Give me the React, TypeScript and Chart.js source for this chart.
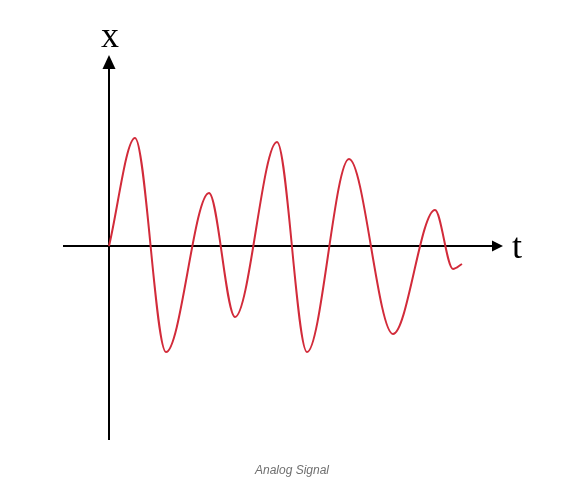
import React, { useEffect, useRef } from "react";
import { Chart, registerables } from "chart.js";

Chart.register(...registerables);

// time values (t) and signal amplitude (x) at the start, every crest/trough, and the end
const tValues = [0, 2.6, 5.7, 10.0, 12.6, 16.8, 19.8, 24.0, 28.4, 32.6, 34.4, 35.3];
const xValues = [0, 10.8, -10.6, 5.3, -7.1, 10.4, -10.6, 8.7, -8.8, 3.6, -2.3, -1.8];

const tRange = [-4.6, 39.4];
const xRange = [-19.4, 19.1];
const axisLabels = ["x", "t"];
const caption = "Analog Signal";

const axesPlugin = {
  id: "arrowAxes",
  beforeDatasetsDraw(chart: any) {
    const { ctx, chartArea, scales } = chart;
    const x0 = scales.x.getPixelForValue(0);
    const y0 = scales.y.getPixelForValue(0);
    ctx.save();
    ctx.strokeStyle = "#000";
    ctx.fillStyle = "#000";
    ctx.lineWidth = 2;
    // horizontal axis
    ctx.beginPath();
    ctx.moveTo(chartArea.left, y0);
    ctx.lineTo(chartArea.right - 8, y0);
    ctx.stroke();
    ctx.beginPath();
    ctx.moveTo(chartArea.right, y0);
    ctx.lineTo(chartArea.right - 11, y0 - 5.5);
    ctx.lineTo(chartArea.right - 11, y0 + 5.5);
    ctx.closePath();
    ctx.fill();
    // vertical axis
    ctx.beginPath();
    ctx.moveTo(x0, chartArea.bottom);
    ctx.lineTo(x0, chartArea.top + 10);
    ctx.stroke();
    ctx.beginPath();
    ctx.moveTo(x0, chartArea.top);
    ctx.lineTo(x0 - 6.5, chartArea.top + 14);
    ctx.lineTo(x0 + 6.5, chartArea.top + 14);
    ctx.closePath();
    ctx.fill();
    // labels
    ctx.font = "36px 'Liberation Serif', serif";
    ctx.textBaseline = "alphabetic";
    ctx.textAlign = "center";
    ctx.fillText(axisLabels[0], x0 + 1, chartArea.top - 8);
    ctx.textAlign = "left";
    ctx.fillText(axisLabels[1], chartArea.right + 9, y0 + 12);
    ctx.restore();
  },
};

export default function App() {
  const ref = useRef<HTMLCanvasElement | null>(null);
  useEffect(() => {
    if (!ref.current) return;
    const chart = new Chart(ref.current, {
      type: "line",
      data: {
        datasets: [
          {
            data: tValues.map((t, i) => ({ x: t, y: xValues[i] })),
            borderColor: "#d22b3a",
            borderWidth: 2,
            pointRadius: 0,
            cubicInterpolationMode: "monotone",
            fill: false,
          },
        ],
      },
      options: {
        animation: false,
        responsive: false,
        events: [],
        layout: { padding: { left: 63, right: 81, top: 55, bottom: 45 } },
        plugins: { legend: { display: false }, tooltip: { enabled: false }, title: { display: false } },
        scales: {
          x: { type: "linear", min: tRange[0], max: tRange[1], display: false },
          y: { type: "linear", min: xRange[0], max: xRange[1], display: false },
        },
      },
      plugins: [axesPlugin],
    } as any);
    return () => chart.destroy();
  }, []);
  return (
    <div style={{ position: "fixed", left: 0, top: 0, width: 584, height: 485, background: "#fff" }}>
      <canvas ref={ref} width={584} height={485} style={{ width: 584, height: 485, display: "block" }} />
      <div
        style={{
          position: "absolute",
          left: 0,
          width: 584,
          top: 462,
          textAlign: "center",
          fontFamily: "'Liberation Sans', Arial, sans-serif",
          fontStyle: "italic",
          fontSize: 12,
          color: "#6f6f6f",
          lineHeight: "16px",
        }}
      >
        {caption}
      </div>
    </div>
  );
}
